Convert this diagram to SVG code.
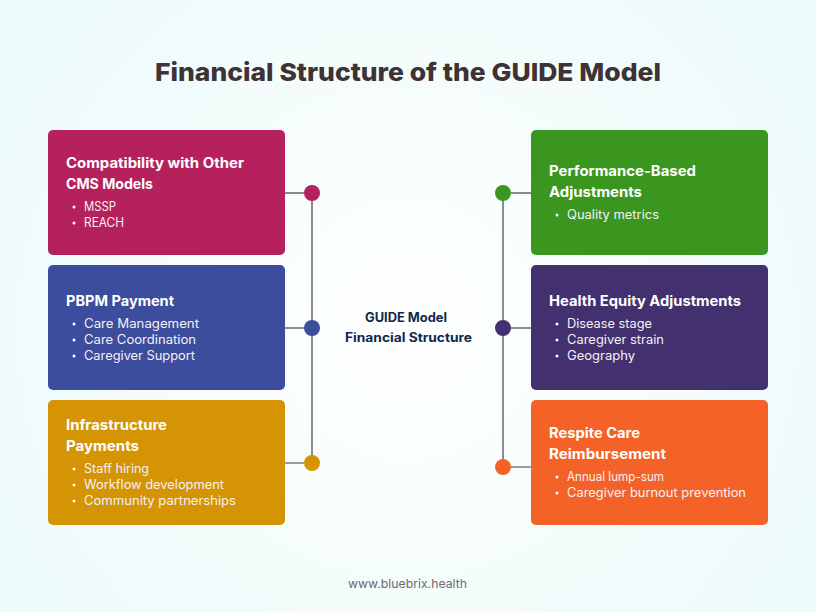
<svg xmlns="http://www.w3.org/2000/svg" width="816" height="612" viewBox="0 0 816 612">
<defs>
<radialGradient id="bg" gradientUnits="userSpaceOnUse" cx="408" cy="330" r="510">
<stop offset="0" stop-color="#ffffff"/><stop offset="0.5" stop-color="#f5fcfc"/><stop offset="1" stop-color="#ebfafa"/>
</radialGradient>
</defs>
<style>
text{font-family:"Inter","Liberation Sans",sans-serif}
.title{font-size:25px;font-weight:800;fill:#3d3234}
.h{font-size:14px;font-weight:700;fill:#fff}
.b{font-size:12.5px;font-weight:400;fill:#f6f0f4}
.c{font-size:12.5px;font-weight:700;fill:#0f2a4a}
.f{font-size:12px;fill:#6b6b6b}
.d{fill:#fff}
.v{stroke:#8c8c8c;stroke-width:2;fill:none}
.k{stroke:#3f3f3f;stroke-width:1.2;fill:none}
</style>
<rect width="816" height="612" fill="url(#bg)"/>
<text class="title" x="155" y="81" textLength="506" lengthAdjust="spacingAndGlyphs">Financial Structure of the GUIDE Model</text>
<g id="connectors">
<path class="v" d="M312 193V463M285 193H304M285 328H304M503 193V467M511 193H531M511 328H531"/>
<path class="k" d="M285 463H304M511 467H531"/>
</g>
<g id="node-compatibility">
<rect x="48" y="130" width="237" height="125" rx="5" fill="#b5215d"/>
<text class="h" x="66" y="168" textLength="178" lengthAdjust="spacingAndGlyphs">Compatibility with Other</text>
<text class="h" x="66" y="189" textLength="87" lengthAdjust="spacingAndGlyphs">CMS Models</text>
<circle class="d" cx="74" cy="207" r="1.5"/><text class="b" x="84" y="211" textLength="32" lengthAdjust="spacingAndGlyphs">MSSP</text>
<circle class="d" cx="74" cy="223" r="1.5"/><text class="b" x="84" y="227" textLength="40" lengthAdjust="spacingAndGlyphs">REACH</text>
<circle cx="312" cy="193" r="8" fill="#b5215d"/>
</g>
<g id="node-pbpm">
<rect x="48" y="265" width="237" height="125" rx="5" fill="#3b4d9c"/>
<text class="h" x="66" y="306" textLength="108" lengthAdjust="spacingAndGlyphs">PBPM Payment</text>
<circle class="d" cx="74" cy="324" r="1.5"/><text class="b" x="84" y="328" textLength="115" lengthAdjust="spacingAndGlyphs">Care Management</text>
<circle class="d" cx="74" cy="340" r="1.5"/><text class="b" x="84" y="344" textLength="112" lengthAdjust="spacingAndGlyphs">Care Coordination</text>
<circle class="d" cx="74" cy="356" r="1.5"/><text class="b" x="84" y="360" textLength="111" lengthAdjust="spacingAndGlyphs">Caregiver Support</text>
<circle cx="312" cy="328" r="8" fill="#3b4d9c"/>
</g>
<g id="node-infrastructure">
<rect x="48" y="400" width="237" height="125" rx="5" fill="#d49404"/>
<text class="h" x="66" y="430" textLength="101" lengthAdjust="spacingAndGlyphs">Infrastructure</text>
<text class="h" x="66" y="451" textLength="73" lengthAdjust="spacingAndGlyphs">Payments</text>
<circle class="d" cx="74" cy="469" r="1.5"/><text class="b" x="84" y="473" textLength="65" lengthAdjust="spacingAndGlyphs">Staff hiring</text>
<circle class="d" cx="74" cy="485" r="1.5"/><text class="b" x="84" y="489" textLength="140" lengthAdjust="spacingAndGlyphs">Workflow development</text>
<circle class="d" cx="74" cy="501" r="1.5"/><text class="b" x="84" y="505" textLength="152" lengthAdjust="spacingAndGlyphs">Community partnerships</text>
<circle cx="312" cy="463" r="8" fill="#d49404"/>
</g>
<g id="node-performance">
<rect x="531" y="130" width="237" height="125" rx="5" fill="#3a961f"/>
<text class="h" x="549" y="176" textLength="147" lengthAdjust="spacingAndGlyphs">Performance-Based</text>
<text class="h" x="549" y="197" textLength="93" lengthAdjust="spacingAndGlyphs">Adjustments</text>
<circle class="d" cx="557" cy="215" r="1.5"/><text class="b" x="567" y="219" textLength="92" lengthAdjust="spacingAndGlyphs">Quality metrics</text>
<circle cx="503" cy="193" r="8" fill="#3a961f"/>
</g>
<g id="node-equity">
<rect x="531" y="265" width="237" height="125" rx="5" fill="#43306f"/>
<text class="h" x="549" y="306" textLength="192" lengthAdjust="spacingAndGlyphs">Health Equity Adjustments</text>
<circle class="d" cx="557" cy="324" r="1.5"/><text class="b" x="567" y="328" textLength="85" lengthAdjust="spacingAndGlyphs">Disease stage</text>
<circle class="d" cx="557" cy="340" r="1.5"/><text class="b" x="567" y="344" textLength="97" lengthAdjust="spacingAndGlyphs">Caregiver strain</text>
<circle class="d" cx="557" cy="356" r="1.5"/><text class="b" x="567" y="360" textLength="68" lengthAdjust="spacingAndGlyphs">Geography</text>
<circle cx="503" cy="328" r="8" fill="#43306f"/>
</g>
<g id="node-respite">
<rect x="531" y="400" width="237" height="125" rx="5" fill="#f46228"/>
<text class="h" x="549" y="438" textLength="91" lengthAdjust="spacingAndGlyphs">Respite Care</text>
<text class="h" x="549" y="459" textLength="117" lengthAdjust="spacingAndGlyphs">Reimbursement</text>
<circle class="d" cx="557" cy="477" r="1.5"/><text class="b" x="567" y="481" textLength="97" lengthAdjust="spacingAndGlyphs">Annual lump-sum</text>
<circle class="d" cx="557" cy="493" r="1.5"/><text class="b" x="567" y="497" textLength="179" lengthAdjust="spacingAndGlyphs">Caregiver burnout prevention</text>
<circle cx="503" cy="467" r="8" fill="#f46228"/>
</g>
<g id="center-label">
<text class="c" x="365" y="322" textLength="82" lengthAdjust="spacingAndGlyphs">GUIDE Model</text>
<text class="c" x="345" y="342" textLength="127" lengthAdjust="spacingAndGlyphs">Financial Structure</text>
</g>
<text class="f" x="348" y="588" textLength="119" lengthAdjust="spacingAndGlyphs">www.bluebrix.health</text>
</svg>
